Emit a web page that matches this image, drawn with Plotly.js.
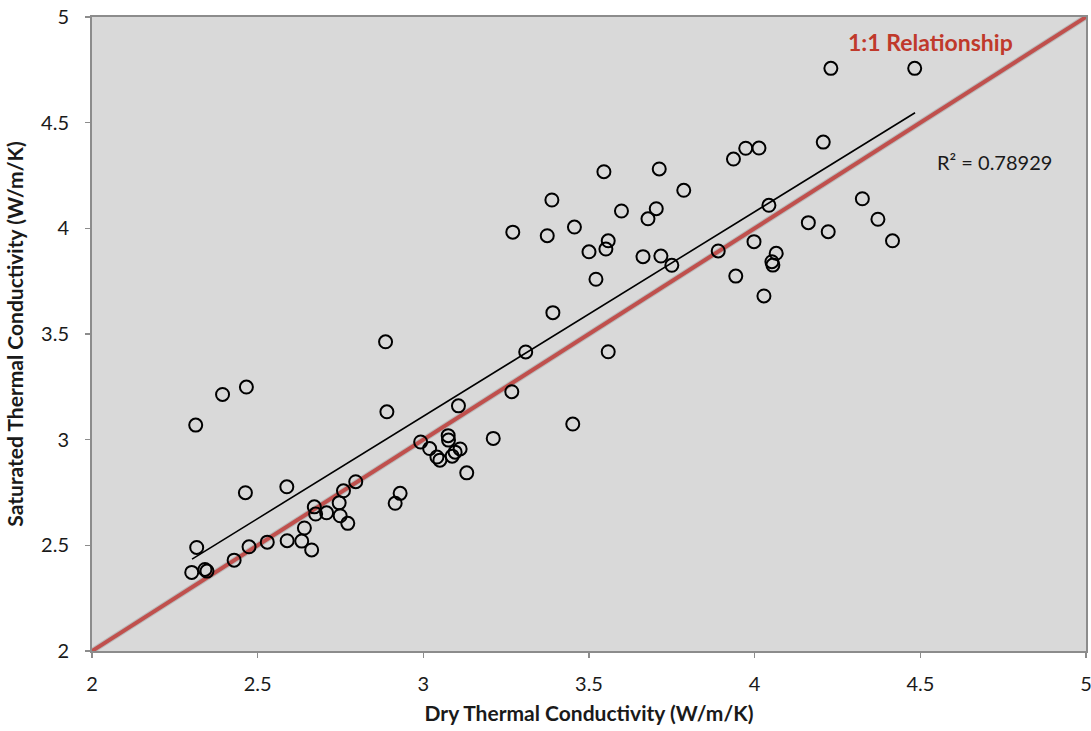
<!DOCTYPE html>
<html>
<head>
<meta charset="utf-8">
<script src="https://cdn.plot.ly/plotly-3.0.1.min.js"></script>
<style>html,body{margin:0;padding:0;background:#fff;}#chart{width:1091px;height:731px;}</style>
</head>
<body>
<div id="chart"></div>
<script>
// Dry thermal conductivity (W/m/K)
const dryK = [
  2.313, 2.394, 2.466, 2.463, 2.588, 2.316, 2.301, 2.341, 2.347, 2.429,
  2.474, 2.529, 2.589, 2.633, 2.641, 2.663, 2.671, 2.675, 2.708, 2.746,
  2.749, 2.759, 2.772, 2.796, 2.886, 2.890, 2.930, 2.915, 2.992, 3.019,
  3.041, 3.050, 3.075, 3.076, 3.087, 3.096, 3.111, 3.131, 3.106, 3.211,
  3.267, 3.309, 3.270, 3.374, 3.388, 3.391, 3.451, 3.456, 3.500, 3.521,
  3.545, 3.551, 3.558, 3.558, 3.598, 3.663, 3.678, 3.703, 3.712, 3.717,
  3.750, 3.786, 3.890, 3.936, 3.943, 3.973, 3.998, 4.013, 4.028, 4.043,
  4.052, 4.055, 4.065, 4.162, 4.207, 4.222, 4.230, 4.325, 4.372, 4.416,
  4.483
];
// Saturated thermal conductivity (W/m/K)
const satK = [
  3.069, 3.214, 3.249, 2.749, 2.777, 2.490, 2.372, 2.386, 2.378, 2.430,
  2.493, 2.515, 2.522, 2.520, 2.582, 2.478, 2.682, 2.648, 2.654, 2.701,
  2.640, 2.758, 2.604, 2.801, 3.463, 3.132, 2.746, 2.699, 2.989, 2.958,
  2.918, 2.903, 3.019, 2.998, 2.922, 2.941, 2.956, 2.843, 3.160, 3.006,
  3.227, 3.415, 3.982, 3.965, 4.134, 3.601, 3.074, 4.006, 3.889, 3.759,
  4.268, 3.902, 3.941, 3.416, 4.082, 3.866, 4.045, 4.093, 4.281, 3.869,
  3.825, 4.180, 3.893, 4.328, 3.774, 4.379, 3.937, 4.380, 3.680, 4.109,
  3.842, 3.826, 3.882, 4.027, 4.408, 3.984, 4.757, 4.140, 4.043, 3.941,
  4.757
];
// Linear trend line endpoints (as drawn in the chart)
const trendX = [2.302, 4.484];
const trendY = [2.435, 4.547];
// 1:1 relationship line
const oneToOneX = [2, 5];
const oneToOneY = [2, 5];
const tickVals = [2, 2.5, 3, 3.5, 4, 4.5, 5];
const tickText = ['2', '2.5', '3', '3.5', '4', '4.5', '5'];
const xTitle = 'Dry Thermal Conductivity (W/m/K)';
const yTitle = 'Saturated Thermal Conductivity (W/m/K)';
const oneToOneLabel = '1:1 Relationship';
const r2Label = 'R² = 0.78929';

const font = 'Lato, "Open Sans", "DejaVu Sans", sans-serif';

const traces = [
  {
    x: oneToOneX, y: oneToOneY, type: 'scatter', mode: 'lines',
    line: {color: 'rgba(120,120,120,0.3)', width: 6}, showlegend: false
  },
  {
    x: oneToOneX, y: oneToOneY, type: 'scatter', mode: 'lines',
    line: {color: '#c0504d', width: 4}, showlegend: false
  },
  {
    x: trendX, y: trendY, type: 'scatter', mode: 'lines',
    line: {color: '#000', width: 1.6}, showlegend: false
  },
  {
    x: dryK, y: satK, type: 'scatter', mode: 'markers',
    marker: {symbol: 'circle-open', size: 13, color: '#000', line: {width: 2, color: '#000'}},
    showlegend: false
  }
];

const axisCommon = {
  range: [2, 5],
  tickvals: tickVals,
  ticktext: tickText,
  showgrid: false,
  zeroline: false,
  showline: true,
  linecolor: '#8c8c8c',
  linewidth: 2,
  mirror: true,
  ticks: 'outside',
  ticklen: 5,
  tickwidth: 1.5,
  tickcolor: '#8c8c8c',
  ticklabeloverflow: 'allow',
  tickfont: {family: font, size: 20, color: '#1a1a1a'},
  fixedrange: true
};

const layout = {
  width: 1091, height: 731,
  margin: {l: 92, r: 5, t: 17, b: 80},
  paper_bgcolor: '#ffffff',
  plot_bgcolor: '#d9d9d9',
  showlegend: false,
  xaxis: Object.assign({}, axisCommon, {
    ticklabelstandoff: 9,
    title: {text: xTitle, font: {family: font, size: 21, color: '#1a1a1a', weight: 'bold'}, standoff: 12}
  }),
  yaxis: Object.assign({}, axisCommon, {
    ticklabelstandoff: 12,
    title: {text: yTitle, font: {family: font, size: 21, color: '#1a1a1a', weight: 'bold'}, standoff: 12}
  }),
  annotations: [
    {
      text: '<b>' + oneToOneLabel + '</b>', xref: 'paper', yref: 'paper',
      x: 0.844, y: 0.9606, xanchor: 'center', yanchor: 'middle', showarrow: false,
      font: {family: font, size: 23, color: '#c0392b'}
    },
    {
      text: r2Label, xref: 'paper', yref: 'paper',
      x: 0.908, y: 0.771, xanchor: 'center', yanchor: 'middle', showarrow: false,
      font: {family: font, size: 20, color: '#1a1a1a'}
    }
  ]
};

Plotly.newPlot('chart', traces, layout, {displayModeBar: false, staticPlot: true});
</script>
</body>
</html>
